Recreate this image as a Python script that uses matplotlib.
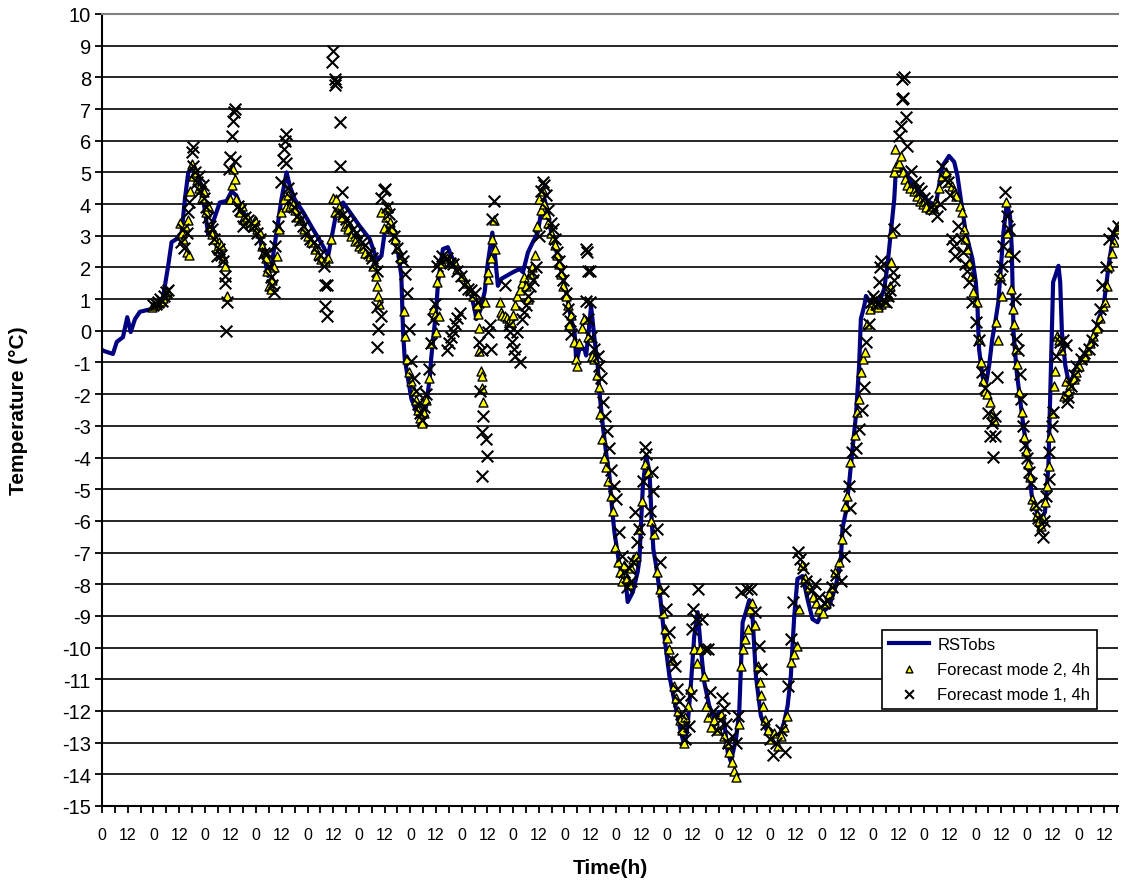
import matplotlib
matplotlib.use("Agg")
import matplotlib.pyplot as plt
import numpy as np

plt.rcParams['font.family'] = ['Liberation Sans', 'DejaVu Sans']
plt.rcParams['axes.unicode_minus'] = False

# ---- data (hours, temperature °C) ----
obs_points = [
    (0, -0.6), (0.6, -0.63), (5.1, -0.73), (6.9, -0.35), (9.8, -0.2), (11.8, 0.43), (13.4, -0.04),
    (15.4, 0.37), (17.7, 0.6), (23.2, 0.69), (27.9, 0.91), (28.6, 1.1), (30.9, 2.05), (32.5, 2.8),
    (34.9, 2.9), (37.2, 3.1), (38.7, 4.15), (40.3, 5.0), (41.8, 5.15), (44.2, 5.0), (46.5, 4.57),
    (48.1, 3.75), (49.6, 3.05), (51.2, 3.3), (52.7, 3.6), (55.0, 4.05), (58.2, 4.1), (60.5, 4.4),
    (62.8, 4.27), (65.9, 3.75), (70.6, 3.3), (73.7, 2.9), (76.0, 2.27), (77.6, 1.73), (79.2, 2.05),
    (81.5, 3.1), (83.8, 4.15), (86.2, 5.0), (87.7, 4.57), (90.0, 4.15), (93.9, 3.75), (98.6, 3.2),
    (103.2, 2.68), (105.6, 2.36), (107.1, 2.9), (109.5, 3.75), (112.6, 4.05), (115.7, 3.75),
    (120.4, 3.3), (125.0, 2.9), (128.2, 2.27), (130.5, 2.36), (132.0, 3.1), (133.6, 3.3),
    (135.2, 3.3), (136.7, 2.9), (138.2, 2.5), (139.8, 1.73), (140.6, -0.04), (141.4, -0.9),
    (142.9, -1.5), (144.5, -2.15), (147.6, -2.68), (149.9, -2.84), (151.4, -2.36), (153.0, -1.52),
    (153.8, -0.83), (156.1, 0.69), (156.9, 1.5), (159.2, 2.58), (161.5, 2.64), (163.1, 2.37),
    (165.4, 2.05), (168.5, 1.73), (171.7, 1.32), (174.0, 0.69), (174.8, 0.37), (176.4, 0.6),
    (178.7, 1.22), (180.2, 2.15), (182.3, 3.1), (183.4, 2.47), (184.9, 1.42), (186.5, 1.64),
    (188.8, 1.73), (191.9, 1.85), (195.0, 1.95), (196.6, 1.85), (198.9, 2.47), (201.2, 2.8),
    (203.5, 3.1), (205.1, 3.75), (206.7, 4.15), (208.2, 3.75), (209.8, 3.1), (213.7, 2.15),
    (216.8, 1.22), (219.1, 0.37), (220.7, -0.04), (221.5, -0.99), (223.0, -0.57), (225.3, -0.57),
    (226.1, -0.78), (227.7, 0.27), (228.4, 0.79), (230.0, -0.25), (231.5, -1.1), (232.3, -1.93),
    (233.9, -3.0), (235.4, -3.83), (237.0, -4.58), (237.8, -5.3), (239.3, -6.35), (241.7, -7.42),
    (244.8, -8.06), (245.5, -8.56), (247.9, -8.25), (250.2, -7.6), (251.0, -7.2), (251.8, -6.0),
    (252.6, -4.9), (254.1, -3.95), (255.7, -4.46), (256.6, -5.8), (257.5, -6.9), (258.8, -7.42),
    (260.3, -8.15), (262.6, -9.63), (265.0, -10.9), (268.1, -11.94), (270.4, -12.67), (272.0, -13.1),
    (273.5, -12.47), (275.1, -11.1), (276.6, -9.63), (278.2, -8.88), (279.7, -10.05), (281.3, -11.1),
    (283.6, -11.84), (286.0, -12.25), (288.3, -12.03), (290.6, -12.35), (292.2, -13.3), (293.7, -13.6),
    (296.1, -12.88), (297.6, -12.03), (299.2, -9.2), (300.7, -8.88), (302.3, -8.5), (303.8, -9.0),
    (305.4, -10.9), (307.7, -12.15), (310.1, -12.57), (313.2, -12.67), (316.3, -12.8), (318.6, -12.35),
    (320.2, -11.84), (321.7, -10.9), (323.3, -9.0), (324.8, -7.83), (327.2, -7.74), (329.5, -8.47),
    (331.8, -9.1), (334.2, -9.2), (336.5, -8.88), (339.6, -8.7), (342.7, -8.06), (345.1, -7.2),
    (345.8, -6.25), (347.4, -5.72), (349.0, -4.77), (350.5, -3.73), (352.1, -2.68), (353.6, -1.1),
    (354.4, 0.37), (356.0, 0.79), (356.8, 1.1), (359.8, 0.79), (363.0, 0.91), (365.3, 1.32),
    (366.8, 2.05), (368.4, 3.1), (370.0, 4.15), (370.7, 5.0), (373.1, 5.2), (375.4, 5.0),
    (377.7, 4.7), (381.6, 4.38), (386.3, 4.07), (389.4, 3.95), (390.9, 4.58), (392.5, 5.2),
    (395.6, 5.52), (398.0, 5.33), (399.5, 4.9), (401.1, 4.15), (403.4, 3.1), (406.5, 2.27),
    (408.1, 1.54), (408.8, 0.9), (409.6, -0.57), (411.2, -1.43), (412.7, -1.74), (414.3, -1.1),
    (415.8, -0.25), (417.4, 0.37), (418.6, 0.9), (421.0, 3.1), (422.6, 4.05), (424.1, 3.6),
    (424.9, 2.58), (425.7, -0.04), (427.2, -1.3), (430.3, -3.0), (432.7, -4.05), (434.2, -5.2),
    (436.6, -5.72), (438.9, -5.94), (440.4, -5.72), (442.0, -4.27), (442.8, -2.15), (443.6, -0.04),
    (444.2, 1.54), (445.2, 1.73), (446.7, 2.05), (447.5, 1.54), (448.3, -0.04), (449.9, -1.1),
    (451.4, -1.6), (453.0, -1.52), (455.3, -1.1), (458.4, -0.78), (461.6, -0.48), (463.9, -0.15),
    (465.4, 0.37), (467.8, 0.79), (470.1, 2.05), (472.5, 3.1), (474.8, 3.3),
]

mode2_points = [
    (23.5, 0.75), (24.5, 0.8), (25.5, 0.85), (26.5, 0.9), (27.5, 0.95), (28.5, 1.05), (29.5, 1.15), (30.5, 1.25),
    (36.5, 3.4), (37.5, 3.1), (38, 2.9), (38.7, 3.3), (39.5, 2.5), (40, 3.5), (40.5, 2.4), (41.1, 4.4),
    (42.5, 4.9), (42, 5.25), (43.5, 5.0), (44.5, 4.75), (45.5, 4.5), (46.5, 4.2), (47.5, 4.38), (48.5, 3.75),
    (49.5, 3.95), (50.5, 3.3), (51.2, 3.05), (52.7, 2.9), (53.5, 2.6), (54.5, 2.8), (55.5, 2.7), (56.5, 2.3),
    (57.4, 2.05), (58.2, 1.1), (59.7, 4.15), (60.5, 4.6), (61.3, 5.1), (62, 4.78), (62.8, 4.15),
    (64.4, 3.75), (65.5, 3.95), (66, 3.53), (67.5, 3.6), (69, 3.43), (70.5, 3.3), (71.5, 3.5), (72.5, 3.2),
    (73.7, 3.1), (74.5, 2.68), (75.5, 2.5), (76.5, 2.3), (77, 1.9), (78, 1.42), (79, 1.32), (79.5, 1.6),
    (80.5, 2.0), (81.5, 2.37), (82.5, 3.2), (83.5, 3.75), (84.8, 4.15), (86, 3.9), (87, 4.3), (88, 3.95),
    (89, 4.0), (90, 3.8), (91.5, 3.6), (93, 3.5), (94.5, 3.2), (96, 3.0), (97.5, 2.8), (99.5, 2.58),
    (101, 2.4), (102.5, 2.27), (104, 2.2), (105.5, 2.3), (107, 2.9), (107.8, 4.2), (108.7, 3.75),
    (109.5, 4.15), (110.5, 3.9), (112, 3.6), (113.5, 3.3), (115, 3.2), (116.5, 3.0), (118, 2.85),
    (120, 2.68), (121.5, 2.6), (123, 2.45), (125, 2.37), (126.5, 2.05), (128, 1.73), (128.5, 1.4),
    (129, 1.1), (129.5, 0.85), (130.5, 3.75), (131.5, 3.25), (132.5, 3.6), (133.5, 3.9), (134.5, 3.43),
    (135.5, 3.2), (136.7, 2.9), (138, 2.6), (139.5, 2.3),
    (141.2, 0.63), (141.5, -0.16), (142.3, -0.89), (143.5, -1.3), (144.5, -1.6), (145.5, -1.9),
    (146.5, -2.2), (147.5, -2.5), (148.5, -2.75), (149.5, -2.9), (150.5, -2.6), (151.5, -2.2),
    (152.5, -1.5), (153.5, -0.4), (154.5, 0.69), (155.3, 0.5), (155.8, -0.04), (156.5, 1.54),
    (157.5, 0.47), (157.7, 1.85), (159, 2.15), (161, 2.3), (163, 2.2), (164.7, 2.15), (166, 1.95),
    (168, 1.73), (170, 1.5), (172, 1.3), (173.5, 1.1), (175, 0.8), (175.5, 0.53), (176.3, 0.1),
    (176, -0.63), (176.8, -1.26), (177.5, -1.42), (177.5, -1.8), (178, -2.25), (179, 0.9), (180.5, 1.64),
    (180.5, 1.85), (181.5, 2.3), (182, 2.9), (183, 3.5), (183.5, 2.58),
    (186, 0.9), (186.5, 0.6), (187, 0.5), (188, 0.47), (189, 0.4), (190, 0.3), (191, 0.27), (192, 0.5),
    (193, 0.8), (194, 1.1), (195, 1.3), (196, 1.5), (197, 1.7), (198, 1.4), (199, 1.0), (200, 1.8),
    (201, 2.0), (202, 2.4), (203, 3.3), (204, 4.15), (205, 3.8), (206, 4.4), (206.5, 4.0), (207.5, 3.7),
    (208.5, 3.4), (209.5, 3.1), (210.5, 2.9), (211.5, 2.7), (212.5, 2.4), (213.5, 2.1), (214.5, 1.8),
    (215.5, 1.4), (216.5, 1.1), (217.5, 0.8), (218.3, 0.17), (219, 0.5), (220.5, -0.35), (221.5, -0.9),
    (222, -1.1), (223, -0.4), (224, 0.1), (225.3, 0.37), (227, -0.2), (229, -0.8), (230, -0.9),
    (231, -1.4), (232, -1.77), (232.5, -2.62), (233.5, -3.42), (234.5, -4.0), (235.3, -4.3),
    (236.5, -4.73), (237.5, -5.2), (238.5, -5.68), (239.5, -6.84), (241, -7.3), (242, -7.6), (243, -7.9),
    (244, -7.4), (245, -7.8), (246, -8.0), (247, -7.5), (248, -7.2), (249.5, -7.1), (251, -6.26),
    (252, -5.36), (253.5, -4.2), (255, -4.45), (256.5, -5.99), (258, -6.41), (259, -7.6), (260.5, -8.15),
    (262, -8.9), (263, -9.4), (264, -9.7), (265, -10.05), (266, -10.4), (267, -11.2), (268, -11.6),
    (269, -12.0), (270, -12.3), (271, -12.6), (272, -13.0), (272.5, -12.2), (273.5, -11.84),
    (274.5, -11.3), (276.5, -10.05), (278, -10.5), (279.5, -10.05), (281, -10.9), (282, -11.84),
    (283, -12.2), (284.5, -12.5), (286, -12.3), (287.5, -12.6), (289, -12.1), (290.5, -12.8),
    (292, -13.0), (293, -13.3), (294, -13.6), (295.3, -13.9), (296, -14.1), (297.5, -12.4),
    (298.5, -10.58), (299.5, -10.05), (300.5, -9.73), (301.5, -9.4), (302.5, -8.78), (303.5, -8.6),
    (305, -9.3), (306.5, -10.58), (307.5, -11.1), (308, -11.5), (308.5, -11.84), (309.5, -12.3),
    (311, -12.6), (312.5, -12.9), (314, -12.7), (315.5, -13.1), (317, -12.8), (318.5, -12.5),
    (320, -12.15), (322, -10.45), (323, -10.2), (324.5, -9.94), (325.5, -8.78), (327, -7.4),
    (328.5, -7.8), (330, -8.1), (332, -8.4), (333.5, -8.6), (335, -8.78), (336.5, -8.9), (338, -8.6),
    (339.5, -8.3), (341, -8.1), (342.5, -7.6), (344, -7.3), (345.5, -6.57), (347, -5.52), (348, -5.2),
    (349.5, -4.15), (351.5, -3.3), (352.5, -2.57), (353.5, -2.15), (354.5, -1.3), (355.5, -0.9),
    (356.5, -0.68), (357.5, 0.2), (358.5, 0.7), (359.5, 0.9), (361, 0.8), (362.5, 0.75), (364, 0.85),
    (365.5, 0.9), (367, 1.1), (368, 1.42), (368.5, 2.17), (369, 3.1), (370, 5.0), (370.3, 5.74),
    (371, 5.2), (372, 5.3), (373, 5.52), (374, 5.0), (375, 4.8), (376, 4.6), (377.5, 4.5), (379, 4.4),
    (380.5, 4.25), (382, 4.1), (383.5, 4.0), (385, 3.9), (386.5, 3.85), (388, 3.95), (389.5, 4.1),
    (391, 4.5), (392.5, 4.9), (394, 5.0), (395.5, 4.7), (397, 4.58), (398, 4.4), (399, 4.27),
    (400.5, 3.95), (401.5, 3.75), (402.5, 3.2), (403, 2.9), (404, 2.58), (405, 2.15), (406, 1.73),
    (407, 1.22), (408.5, 0.9), (409.5, -0.25), (410.5, -0.99), (411.5, -1.57), (412.5, -1.89),
    (413.5, -2.0), (414.5, -2.25), (415.5, -2.6), (416.5, -2.8), (417.5, 0.27), (418.5, -0.3),
    (419.5, 1.73), (420.5, 1.1), (422, 4.05), (422.8, 3.1), (423.5, 2.5), (424.5, 1.32), (425.5, 0.69),
    (426, 0.21), (426.7, -0.57), (427.2, -1.05), (428.3, -1.93), (429.5, -2.57), (430.5, -3.36),
    (431.5, -3.8), (432.5, -4.2), (433.5, -4.6), (434.5, -5.3), (435.5, -5.5), (436.5, -5.8),
    (437.5, -6.0), (438.5, -6.15), (439.5, -5.9), (440.5, -5.4), (441.5, -4.9), (442.3, -4.26),
    (442.8, -3.36), (443.5, -2.6), (444.6, -1.74), (445, -1.26), (446, -0.15), (447, -0.3),
    (448, -0.6), (449.3, -2.05), (450, -1.6), (451, -1.9), (452, -1.7), (453.9, -1.52), (455, -1.3),
    (456.3, -1.1), (457.5, -0.9), (458.6, -0.78), (460, -0.6), (461.5, -0.4), (463, -0.15),
    (464.5, 0.1), (466, 0.4), (467.5, 0.79), (468.5, 0.9), (469.5, 1.4), (470.3, 2.05), (471.5, 2.47),
    (472.5, 2.8), (473.5, 3.2), (474.5, 3.3),
]

mode1_points = [
    (24, 0.8), (25, 0.85), (26, 0.9), (27, 1.0), (28, 0.95), (29, 1.1), (30, 1.22), (31, 1.3),
    (37, 2.8), (38, 3.2), (38.5, 2.6), (39.5, 3.1), (40, 3.75), (40.5, 4.05), (42, 5.64), (42.7, 5.8),
    (42.5, 5.2), (43.5, 5.0), (44.5, 4.7), (45.5, 4.9), (46, 4.4), (47, 4.6), (47.5, 4.2), (48.5, 3.9),
    (49.5, 3.6), (50.5, 3.3), (51.5, 3.2), (52.5, 2.9), (53.5, 2.37), (54.5, 2.58), (55.5, 2.4),
    (56.5, 2.2), (57.4, 1.73), (57.6, 1.5), (58.2, 0.9), (58, 0.0), (59.5, 5.1), (60, 5.48),
    (60.5, 6.15), (61, 6.63), (61.5, 6.9), (62, 7.0), (62, 5.37), (63.5, 3.95), (64.5, 3.8), (66, 3.3),
    (67, 3.6), (68, 3.5), (69.5, 3.4), (71, 3.3), (72.5, 3.1), (74, 2.9), (75.5, 2.47), (77, 2.47),
    (77.8, 2.05), (79, 1.7), (79.5, 1.45), (80.3, 1.22), (81, 2.68), (82, 3.3), (83.5, 4.7), (84.5, 5.4),
    (85, 5.74), (85.4, 6.0), (85.7, 6.2), (86, 5.3), (87, 4.5), (88.5, 4.2), (89.5, 3.9), (91, 3.63),
    (92.5, 3.5), (94, 3.3), (95.5, 3.1), (97, 2.9), (99, 2.8), (100.5, 2.68), (102, 2.4), (103.5, 2.05),
    (104.3, 1.43), (105, 1.45), (104, 0.79), (105, 0.47), (108, 8.84), (107.5, 8.5), (109, 7.95),
    (109.5, 7.85), (109, 7.75), (111, 6.59), (111, 5.21), (112, 4.38), (110, 3.75), (112.5, 3.7),
    (114, 3.53), (115.5, 3.4), (117, 3.2), (118.5, 3.1), (120, 2.9), (121.5, 2.8), (123, 2.7),
    (124.5, 2.47), (126, 2.3), (127.5, 2.15), (128.5, 1.9), (128.2, 0.74), (130.5, 0.47), (129, 0.06),
    (128.5, -0.5), (130.5, 4.2), (131.5, 4.45), (132, 4.48), (133, 3.9), (134, 3.7), (135, 3.3),
    (136.5, 3.0), (138, 2.6), (139.5, 2.37), (140.5, 2.2), (141.5, 1.8), (142.5, 1.2), (143.5, 0.06),
    (144.5, -0.94), (145.5, -1.5), (146.5, -1.9), (147.5, -2.3), (148.5, -2.6), (149.5, -2.8),
    (150.5, -2.4), (151.5, -2.0), (152.5, -1.2), (153.5, -0.4), (154.5, 0.37), (155.5, 0.85),
    (156.5, 2.05), (157.5, 2.2), (159, 2.37), (161, 2.3), (162.5, 2.15), (164, 2.1), (166, 1.9),
    (167.5, 1.73), (169, 1.43), (171, 1.32), (172.5, 1.3), (174, 1.2), (175.5, 0.9),
    (161, -0.6), (162, -0.4), (163, -0.2), (164, 0.0), (165, 0.2), (166, 0.4), (167, 0.55),
    (176, -0.35), (177.5, -0.6), (176.5, -1.9), (178, -2.68), (177.5, -3.2), (179.5, -3.4),
    (180, -3.94), (177.5, -4.57), (180.5, -0.04), (181, 0.17), (181.5, -0.57), (182, 3.53), (183.3, 4.1),
    (188, 1.43), (190, 0.17), (190.5, -0.04), (191.5, -0.36), (192.5, -0.57), (193, -0.78), (195, -0.99),
    (194, -0.04), (196, 0.37), (197, 0.6), (198, 0.8), (199, 1.1), (200, 1.4), (201, 1.85), (201.5, 1.6),
    (202.5, 2.0), (204, 3.0), (205, 4.4), (206, 4.7), (206.5, 4.6), (207.5, 4.3), (208.5, 3.8),
    (209.5, 3.4), (210.5, 3.2), (211.5, 2.9), (212.5, 2.5), (213.5, 2.2), (214.5, 1.9), (215.5, 1.6),
    (216.5, 1.2), (217.5, 0.7), (218.5, 0.3), (219, -0.1), (226, 2.58), (226.5, 2.5), (227, 1.9),
    (228, 1.9), (226, 0.95), (228, 0.9), (227, 0.37), (228.5, -0.2), (230, -0.57), (231.5, -0.8),
    (232.3, -1.1), (233, -1.5), (234, -2.25), (235, -2.7), (236, -3.15), (237, -3.7), (237.5, -4.4),
    (239, -4.9), (240, -5.3), (241.6, -6.36), (243, -7.1), (244, -7.6), (245, -8.1), (246, -7.5),
    (247, -7.9), (248, -7.3), (249, -5.73), (250, -6.68), (251, -6.26), (252.5, -4.73), (253.5, -3.68),
    (254, -3.9), (257, -4.46), (257.5, -5.05), (256, -5.68), (259, -6.26), (260.5, -7.3), (262, -8.2),
    (263.5, -8.78), (265, -9.5), (266, -10.36), (267.5, -10.58), (268.5, -11.3), (269.5, -11.7),
    (270.5, -12.1), (271.5, -12.5), (272.5, -12.9), (274, -12.47), (275, -11.5), (276, -8.78),
    (275.5, -9.4), (277.5, -9.1), (278.5, -8.15), (280, -9.1), (281.5, -10.05), (283, -10.05),
    (284, -11.4), (285.5, -12.0), (287, -12.6), (288.5, -12.3), (289.5, -11.6), (290.5, -11.9),
    (291.5, -12.4), (292.5, -13.0), (294, -12.8), (296, -13.0), (297, -12.15), (298.5, -8.25),
    (301, -8.15), (303, -8.15), (305, -8.88), (307, -9.94), (308, -10.68), (310, -12.4), (312, -12.9),
    (313.5, -13.4), (315, -13.0), (317, -12.6), (319, -13.3), (320.5, -11.2), (322, -9.73),
    (322.5, -8.56), (325, -6.98), (326, -7.2), (327.5, -7.5), (329, -7.9), (331, -8.2), (333, -8.0),
    (335, -8.4), (337, -8.6), (339, -8.5), (341, -8.1), (343, -7.7), (345, -7.9), (346.6, -7.1),
    (347.2, -6.3), (349, -4.9), (349.5, -5.6), (350.5, -3.84), (352, -3.7), (353.6, -3.1), (355, -2.5),
    (356, -1.78), (357, -0.36), (358, 0.21), (359, 0.9), (360, 1.1), (361, 1.0), (362, 0.85),
    (363, 1.54), (363.5, 2.0), (364, 2.2), (365, 0.95), (366, 0.9), (367, 1.1), (368, 1.3),
    (369.5, 1.85), (370, 1.6), (370, 3.2), (372, 6.15), (373, 6.47), (373.5, 7.32), (374, 7.36),
    (373.5, 7.95), (374.5, 8.0), (375.5, 6.74), (376, 5.84), (378, 5.05), (379.5, 4.7), (381, 4.5),
    (382.5, 4.4), (384, 4.2), (385.5, 4.1), (387, 3.9), (388.5, 3.85), (390, 3.63), (391.5, 4.0),
    (392.5, 5.2), (393.5, 4.8), (395, 4.7), (396, 4.3), (397, 2.9), (398, 2.68), (398.5, 2.36),
    (400, 3.3), (401, 2.9), (402, 2.5), (403, 2.1), (404, 1.9), (405, 1.54), (406.5, 0.9), (408, 0.27),
    (409.5, -0.3), (411, -1.31), (412.5, -1.8), (414, -2.6), (415.5, -2.9), (417, -2.7), (414.5, -3.31),
    (417, -3.31), (416, -3.98), (418, -1.46), (419.5, 1.64), (420.5, 2.05), (421, 2.68), (421.5, 4.38),
    (422.5, 3.63), (423.5, 3.2), (426, 2.37), (426.5, 1.0), (427, -0.25), (428, -0.6), (428.5, -1.36),
    (429, -2.15), (430, -3.0), (431, -3.6), (432, -4.0), (433, -4.46), (434, -4.8), (436, -5.5),
    (437, -5.9), (438, -6.3), (439.5, -6.52), (440, -6.0), (441, -5.2), (442.5, -4.68), (442.3, -3.84),
    (443.5, -3.0), (444, -2.57), (445.5, -0.78), (447.5, -0.36), (449, -0.3), (450, -0.45),
    (450.5, -2.25), (451, -2.1), (452.5, -1.74), (454, -1.4), (455, -1.1), (457, -0.9), (458.5, -0.7),
    (460.9, -0.57), (462.5, -0.3), (464.5, 0.17), (466, 0.69), (467, 1.43), (469, 2.0), (470.3, 2.9),
    (472, 3.1), (474.5, 3.3),
]

y_ticks = list(range(-15, 11))
x_tick_hours = list(range(0, 475, 6))
x_tick_names = ["0", "12"]

obs_h, obs_t = zip(*obs_points)
m2_h, m2_t = zip(*mode2_points)
m1_h, m1_t = zip(*mode1_points)

fig = plt.figure(figsize=(11.23, 8.87), dpi=100)
ax = fig.add_axes([102/1123, 1 - 807/887, 1016/1123, 792/887])

for y in y_ticks:
    ax.axhline(y, color='black', lw=1.2, zorder=1)

ax.plot(obs_h, obs_t, color='#000080', lw=3, zorder=2, label='RSTobs')
ax.scatter(m2_h, m2_t, marker='^', s=42, facecolor='#FFFF00', edgecolor='black',
           linewidths=1.0, zorder=3, label='Forecast mode 2, 4h')
ax.scatter(m1_h, m1_t, marker='x', s=70, color='black', linewidths=1.5, zorder=4,
           label='Forecast mode 1, 4h')

ax.set_xlim(0, 474.5)
ax.set_ylim(-15, 10)
ax.set_yticks(y_ticks)
ax.set_yticklabels([str(v) for v in y_ticks], fontsize=14.5)
ax.set_xticks(x_tick_hours)
labels = []
for i, h in enumerate(x_tick_hours):
    if i % 2 == 0:
        labels.append(x_tick_names[(i // 2) % 2])
    else:
        labels.append("")
ax.set_xticklabels(labels, fontsize=11.5)
ax.tick_params(axis='x', length=5, width=1.3, pad=10, direction='out')
ax.tick_params(axis='y', length=5, width=1.3, pad=3, direction='out')

ax.spines['right'].set_visible(False)
ax.spines['top'].set_color('#808080')
ax.spines['top'].set_linewidth(1.5)
ax.spines['left'].set_linewidth(1.5)
ax.spines['bottom'].set_linewidth(1.5)

ax.set_ylabel('Temperature (°C)', fontsize=15, fontweight='bold')
ax.yaxis.set_label_coords(-74/1016, 0.5)
ax.set_xlabel('Time(h)', fontsize=15, fontweight='bold')
ax.xaxis.set_label_coords(0.5, -52/792)

leg = ax.legend(loc='upper left', bbox_to_anchor=(0.768, 0.222), frameon=True, fancybox=False,
                fontsize=12, borderpad=0.4, labelspacing=0.6, handlelength=2.4, handletextpad=0.5,
                borderaxespad=0, markerscale=0.75)
leg.get_frame().set_edgecolor('black')
leg.get_frame().set_linewidth(1.2)
leg.get_frame().set_alpha(1)
leg.set_zorder(10)

fig.savefig('out.png', dpi=100)
